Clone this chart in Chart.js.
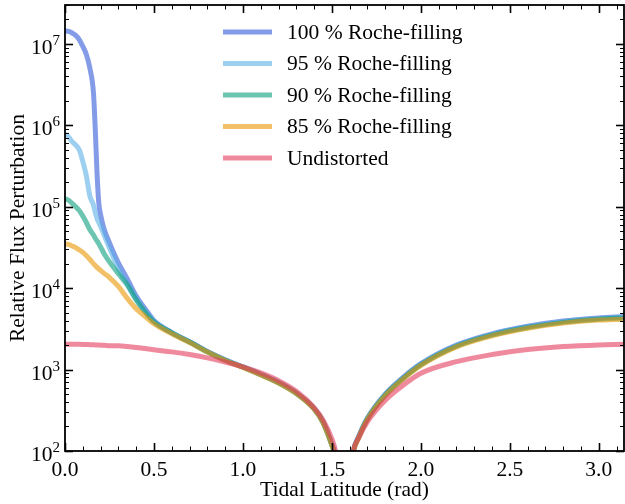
<!DOCTYPE html>
<html><head><meta charset="utf-8">
<script src="https://cdn.jsdelivr.net/npm/chart.js@4/dist/chart.umd.min.js"></script>
<style>html,body{margin:0;padding:0;background:#fff}#wrap{width:625px;height:504px}</style>
</head><body><div id="wrap"><canvas id="c" width="625" height="504"></canvas></div>
<script>
// Tidal latitude samples (rad)
const latitude = [0, 0.02, 0.04, 0.06, 0.08, 0.10, 0.12, 0.14, 0.16, 0.17, 0.18, 0.19, 0.20, 0.22, 0.25, 0.30, 0.35, 0.40, 0.45, 0.50,
  0.60, 0.70, 0.80, 0.90, 1.00, 1.10, 1.20, 1.30, 1.40, 1.45, 1.50, 1.52, 1.55, 1.59, 1.62, 1.65, 1.70, 1.80, 1.90, 2.00,
  2.20, 2.40, 2.60, 2.80, 3.00, 3.1416];

const roche100 = [1.45e7, 1.42e7, 1.36e7, 1.27e7, 1.13e7, 9.3e6, 7.4e6, 5.0e6, 2.5e6, 9.0e5, 2.6e5, 1.1e5, 8.0e4, 5.3e4, 3.6e4, 2.05e4, 1.3e4, 8.0e3, 5.6e3, 4.0e3,
  2.85e3, 2.2e3, 1.67e3, 1.32e3, 1.08e3, 875, 695, 515, 333, 228, 120, 88, 30, 30, 98, 150, 255, 500, 800, 1180,
  2000, 2750, 3400, 3950, 4300, 4480];
const roche95 = [7.9e5, 7.2e5, 6.3e5, 5.7e5, 5.0e5, 3.6e5, 2.4e5, 1.35e5, 1.05e5, 8.5e4, 7.2e4, 6.4e4, 5.7e4, 4.5e4, 3.1e4, 1.75e4, 1.12e4, 7.4e3, 5.2e3, 3.9e3,
  2.83e3, 2.19e3, 1.66e3, 1.31e3, 1.075e3, 870, 690, 512, 331, 226, 119, 87, 30, 30, 98, 148, 252, 495, 790, 1165,
  1970, 2710, 3350, 3880, 4230, 4400];
const roche90 = [1.25e5, 1.2e5, 1.1e5, 1.0e5, 9.0e4, 7.7e4, 6.4e4, 5.2e4, 4.5e4, 4.1e4, 3.8e4, 3.5e4, 3.2e4, 2.65e4, 2.1e4, 1.5e4, 1.1e4, 7.2e3, 5.1e3, 3.85e3,
  2.82e3, 2.18e3, 1.65e3, 1.30e3, 1.07e3, 865, 688, 510, 330, 225, 118, 86, 30, 30, 97, 146, 248, 485, 775, 1140,
  1930, 2650, 3280, 3800, 4150, 4300];
const roche85 = [3.5e4, 3.45e4, 3.3e4, 3.15e4, 2.95e4, 2.75e4, 2.5e4, 2.25e4, 2.0e4, 1.9e4, 1.8e4, 1.72e4, 1.65e4, 1.52e4, 1.35e4, 1.05e4, 7.5e3, 5.6e3, 4.5e3, 3.65e3,
  2.75e3, 2.15e3, 1.64e3, 1.29e3, 1.065e3, 860, 685, 508, 328, 224, 117, 85, 30, 30, 96, 145, 245, 478, 765, 1125,
  1900, 2600, 3220, 3720, 4050, 4150];
const undistorted = [2050, 2050, 2050, 2045, 2040, 2035, 2030, 2020, 2015, 2010, 2005, 2000, 1995, 1985, 1965, 1960, 1920, 1870, 1810, 1750,
  1650, 1530, 1390, 1240, 1080, 910, 730, 540, 340, 240, 140, 100, 30, 30, 100, 145, 230, 420, 640, 900,
  1250, 1530, 1760, 1920, 2010, 2040];

const seriesLabels = ['100 % Roche-filling', '95 % Roche-filling', '90 % Roche-filling', '85 % Roche-filling', 'Undistorted'];
const seriesValues = [roche100, roche95, roche90, roche85, undistorted];
const seriesColors = ['rgba(50,90,217,0.6)', 'rgba(92,177,230,0.6)', 'rgba(10,158,123,0.6)', 'rgba(233,150,2,0.6)', 'rgba(228,60,93,0.6)'];
const xMajorTicks = [0, 0.5, 1.0, 1.5, 2.0, 2.5, 3.0];
const yMajorExponents = [2, 3, 4, 5, 6, 7];

const SERIF = '"Liberation Serif", "Times New Roman", serif';
const FS = 21.5;

const datasets = seriesValues.map((vals, i) => ({
  label: seriesLabels[i],
  data: latitude.map((x, j) => ({x: x, y: vals[j]})),
  borderColor: seriesColors[i],
  backgroundColor: seriesColors[i],
  borderWidth: 5,
  pointRadius: 0,
  fill: false,
  cubicInterpolationMode: 'monotone',
  clip: 0,
  order: seriesValues.length - 1 - i
}));

function seg(ctx, x1, y1, x2, y2) { ctx.beginPath(); ctx.moveTo(x1, y1); ctx.lineTo(x2, y2); ctx.stroke(); }

const framePlugin = {
  id: 'frameTicks',
  afterDatasetsDraw(chart) {
    const {ctx, chartArea: a, scales: {x, y}} = chart;
    ctx.save();
    ctx.strokeStyle = '#000';
    for (let i = 0; i <= 31; i++) {
      const v = i / 10;
      const px = Math.round(x.getPixelForValue(v)) + 0.5;
      const major = xMajorTicks.some(t => Math.abs(t - v) < 1e-9);
      const L = major ? 8 : 4.5;
      ctx.lineWidth = major ? 1.6 : 1;
      seg(ctx, px, a.bottom, px, a.bottom - L);
      seg(ctx, px, a.top, px, a.top + L);
    }
    for (const e of yMajorExponents) {
      for (let m = 1; m <= 9; m++) {
        const v = m * Math.pow(10, e);
        if (v > y.max) break;
        const py = Math.round(y.getPixelForValue(v)) + 0.5;
        const major = m === 1;
        const L = major ? 8 : 4;
        ctx.lineWidth = major ? 1.6 : 1;
        seg(ctx, a.left, py, a.left + L, py);
        seg(ctx, a.right, py, a.right - L, py);
      }
    }
    ctx.lineWidth = 1.8;
    ctx.strokeRect(a.left, a.top, a.right - a.left, a.bottom - a.top);
    // y tick labels 10^n with raised exponent
    ctx.fillStyle = '#000';
    ctx.textBaseline = 'alphabetic';
    ctx.textAlign = 'left';
    for (const e of yMajorExponents) {
      const py = y.getPixelForValue(Math.pow(10, e));
      const expStr = String(e);
      ctx.font = '15px ' + SERIF;
      const ew = ctx.measureText(expStr).width;
      ctx.font = FS + 'px ' + SERIF;
      const bw = ctx.measureText('10').width;
      const right = a.left - 5;
      const x0 = right - ew - bw;
      ctx.fillText('10', x0, py + 10);
      ctx.font = '15px ' + SERIF;
      ctx.fillText(expStr, x0 + bw, py + 1);
    }
    ctx.restore();
  },
  afterDraw(chart) {
    const ctx = chart.ctx;
    ctx.save();
    ctx.font = FS + 'px ' + SERIF;
    ctx.textBaseline = 'middle';
    ctx.textAlign = 'left';
    chart.data.datasets.forEach((ds, i) => {
      const cy = 32 + i * 31.5;
      ctx.strokeStyle = ds.borderColor;
      ctx.lineWidth = 5;
      seg(ctx, 223, cy, 272, cy);
      ctx.fillStyle = '#000';
      ctx.fillText(ds.label, 287, cy + 1);
    });
    ctx.restore();
  }
};

new Chart(document.getElementById('c'), {
  type: 'line',
  data: {datasets: datasets},
  options: {
    responsive: false,
    animation: false,
    events: [],
    layout: {padding: {top: 5, right: 1, left: 0, bottom: 0}},
    plugins: {legend: {display: false}, tooltip: {enabled: false}},
    scales: {
      x: {
        type: 'linear', min: 0, max: Math.PI,
        grid: {display: false, drawTicks: false},
        border: {display: false},
        ticks: {stepSize: 0.5, includeBounds: false, color: '#000', padding: 6,
          font: {family: SERIF, size: FS}, callback: v => v.toFixed(1)},
        title: {display: true, text: 'Tidal Latitude (rad)', color: '#000',
          font: {family: SERIF, size: FS}, padding: {top: 0, bottom: 1}},
        afterFit: s => { s.height = 53; s.paddingLeft = 0; s.paddingRight = 0; }
      },
      y: {
        type: 'logarithmic', min: 100, max: 3e7,
        grid: {display: false, drawTicks: false},
        border: {display: false},
        ticks: {autoSkip: false, display: true, padding: 5,
          font: {family: SERIF, size: FS}, callback: () => ''},
        title: {display: true, text: 'Relative Flux Perturbation', color: '#000',
          font: {family: SERIF, size: FS}, padding: {top: 5, bottom: 0}},
        afterFit: s => { s.width = 65; s.paddingTop = 0; s.paddingBottom = 0; }
      }
    }
  },
  plugins: [framePlugin]
});
</script>
</body></html>
